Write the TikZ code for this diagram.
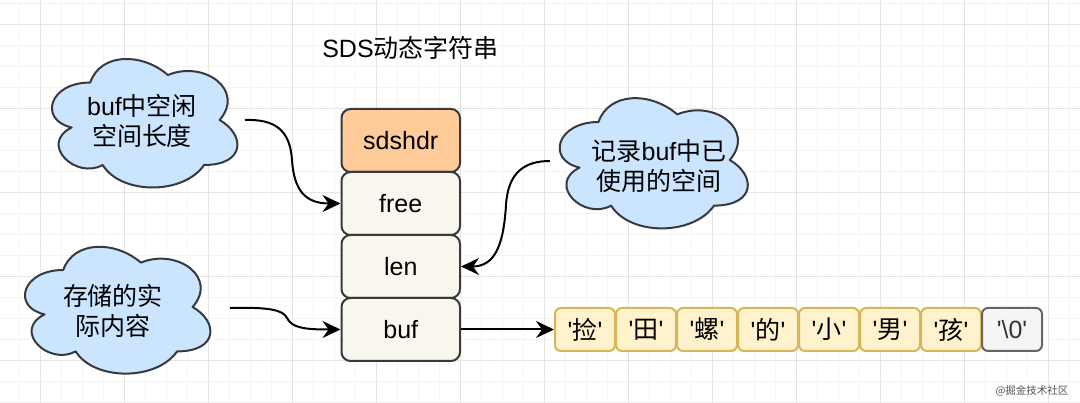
\documentclass[tikz,border=0pt]{standalone}
\usepackage{fontspec}
\setmainfont{Liberation Sans}[Ligatures=TeXOff]
\newfontfamily\cjk{Noto Sans CJK SC}[Ligatures=TeXOff]
\usetikzlibrary{arrows.meta}
\definecolor{strk}{HTML}{36393D}
\definecolor{orfill}{HTML}{FFCC99}
\definecolor{bxfill}{HTML}{F9F7ED}
\definecolor{chfill}{HTML}{FFF2CC}
\definecolor{chstrk}{HTML}{D6B656}
\definecolor{nulfill}{HTML}{F5F5F5}
\definecolor{nulstrk}{HTML}{666666}
\definecolor{nultext}{HTML}{333333}
\definecolor{cldfill}{HTML}{CCE5FF}
\definecolor{gminorc}{HTML}{F4F4F4}
\definecolor{gmajorc}{HTML}{E4E4E4}
\definecolor{wmc}{HTML}{555555}
\newcommand\mycloudshape[4]{%
  \begin{scope}[shift={(#1,#2)},x=#3pt,y=-#4pt]
    \draw[cloudst] (0.25,0.25) .. controls (0.05,0.25) and (0,0.5) .. (0.16,0.55)
      .. controls (0,0.66) and (0.18,0.9) .. (0.31,0.8)
      .. controls (0.4,1) and (0.7,1) .. (0.8,0.8)
      .. controls (1,0.8) and (1,0.6) .. (0.875,0.5)
      .. controls (1,0.3) and (0.8,0.1) .. (0.625,0.2)
      .. controls (0.5,0.05) and (0.3,0.05) .. (0.25,0.25) -- cycle;
  \end{scope}}
\tikzset{
  big/.style={font=\fontsize{25}{30}\selectfont},
  fieldbox/.style={big, draw=strk, line width=2pt, rounded corners=9pt,
    minimum width=118.5pt, minimum height=63pt, inner sep=0pt, fill=bxfill},
  headbox/.style={fieldbox, fill=orfill},
  charbox/.style={big, draw=chstrk, fill=chfill, line width=2pt, rounded corners=6pt,
    minimum width=60pt, minimum height=43pt, inner sep=0pt},
  nulbox/.style={charbox, draw=nulstrk, fill=nulfill, text=nultext},
  cloudst/.style={draw=strk, fill=cldfill, line width=2pt, line join=round},
  cloudtext/.style={big, align=center, inner sep=0pt},
  conn/.style={draw=black, line width=2pt, -{Stealth[length=18pt,width=17pt,inset=6pt]}},
  gminor/.style={draw=gminorc, line width=1pt},
  gmajor/.style={draw=gmajorc, line width=1pt}
}
\begin{document}
\begin{tikzpicture}[x=1pt,y=-1pt]
\useasboundingbox (0,0) rectangle (1080,403);
\fill[white] (0,0) rectangle (1080,403);
% grid
\foreach \gx in {19,40,...,1080} \draw[gminor] (\gx,0) -- (\gx,403);
\foreach \gy in {4,25,...,403} \draw[gminor] (0,\gy) -- (1080,\gy);
\foreach \gx in {40,124,...,1080} \draw[gmajor] (\gx,0) -- (\gx,403);
\foreach \gy in {25,109,...,403} \draw[gmajor] (0,\gy) -- (1080,\gy);

% title
\node[big, inner sep=0pt] (title) at (410.5,48) {SDS{\cjk 动态字符串}};

% struct boxes
\node[headbox] (sdshdr) at (400.75,140.5) {sdshdr};
\node[fieldbox] (free) at (400.75,203.5) {free};
\node[fieldbox] (len) at (400.75,266.5) {len};
\node[fieldbox] (buf) at (400.75,329.5) {buf};

% char array
\node[charbox] (c1) at (585,329.5) {'{\cjk 捡}'};
\node[charbox] (c2) at (646,329.5) {'{\cjk 田}'};
\node[charbox] (c3) at (707,329.5) {'{\cjk 螺}'};
\node[charbox] (c4) at (768,329.5) {'{\cjk 的}'};
\node[charbox] (c5) at (829,329.5) {'{\cjk 小}'};
\node[charbox] (c6) at (890,329.5) {'{\cjk 男}'};
\node[charbox] (c7) at (951,329.5) {'{\cjk 孩}'};
\node[nulbox] (c8) at (1012,329.5) {'\textbackslash 0'};

% clouds
\mycloudshape{38.5}{45}{207}{150}
\node[cloudtext] (t1) at (142,121) {buf{\cjk 中空闲}\\{\cjk 空间长度}};
\mycloudshape{546}{84}{210}{152}
\node[cloudtext] (t2) at (659,166) {{\cjk 记录}buf{\cjk 中已}\\{\cjk 使用的空间}};
\mycloudshape{11.5}{233}{207}{148}
\node[cloudtext] (t3) at (113,311) {{\cjk 存储的实}\\{\cjk 际内容}};

% connectors
\coordinate (s1) at (245,120);
\coordinate (s2) at (550,161);
\coordinate (s3) at (230,308);
\draw[conn] (s1) .. controls (275,119) and (290,130) .. (292,160)
  .. controls (294,190) and (305,203.5) .. (free.west);
\draw[conn] (s2) .. controls (525,161) and (508,172) .. (506,205)
  .. controls (503.6,245) and (495,266.5) .. (len.east);
\draw[conn] (s3) .. controls (270,307) and (283,310) .. (287,318)
  .. controls (292,328) and (305,329.5) .. (buf.west);
\draw[conn] (buf.east) -- (c1.west);

% watermark
\node[font=\cjk\fontsize{10.5}{12}\selectfont, text=wmc, inner sep=0pt] (wm) at (1032,391) {@掘金技术社区};
\end{tikzpicture}
\end{document}
